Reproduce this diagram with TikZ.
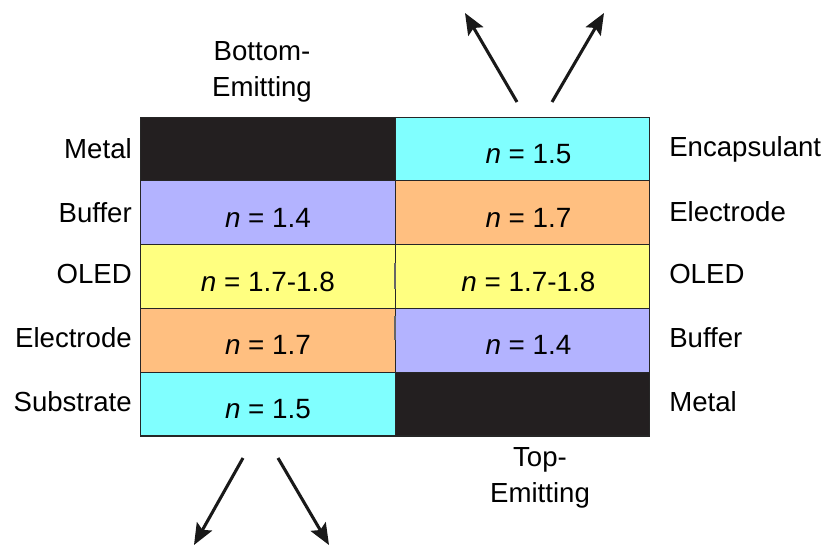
\documentclass[tikz,border=0pt]{standalone}
\usepackage{fontspec}
\setmainfont{Liberation Sans}
\usetikzlibrary{arrows.meta}
\definecolor{metalc}{HTML}{231F20}
\definecolor{bufferc}{HTML}{B3B3FF}
\definecolor{oledc}{HTML}{FFFF80}
\definecolor{electc}{HTML}{FFBF80}
\definecolor{substc}{HTML}{80FFFF}
\begin{document}
\begin{tikzpicture}[x=0.75pt,y=-0.75pt,
  cell/.style={minimum width=191pt,minimum height=47.85pt,inner sep=0pt,draw=black!85,line width=0.8pt,
    text height=22pt,text depth=0pt,font=\fontsize{20.9}{27}\selectfont},
  rcell/.style={cell},
  lbl/.style={inner sep=0pt,font=\fontsize{20.7}{27}\selectfont},
  ray/.style={line width=2.3pt,draw=black!90,-{Stealth[length=16pt,width=13pt,inset=3pt]}},
  divmark/.style={draw=black!60,line width=1pt}]
\useasboundingbox (0,0) rectangle (828,546);
% left column (bottom-emitting)
\node[cell,fill=metalc]  (lmetal) at (268,149) {};
\node[cell,fill=bufferc] (lbuf)   at (268,212.7) {\textit{n} = 1.4};
\node[cell,fill=oledc]   (loled)  at (268,276.5) {\textit{n} = 1.7-1.8};
\node[cell,fill=electc]  (lelec)  at (268,340.3) {\textit{n} = 1.7};
\node[cell,fill=substc]  (lsub)   at (268,404.1) {\textit{n} = 1.5};
% right column (top-emitting)
\node[rcell,fill=substc]  (renc)   at (522.5,149) {\hspace*{9pt}\textit{n} = 1.5};
\node[rcell,fill=electc]  (relec)  at (522.5,212.7) {\hspace*{9pt}\textit{n} = 1.7};
\node[rcell,fill=oledc]   (roled)  at (522.5,276.5) {\hspace*{9pt}\textit{n} = 1.7-1.8};
\node[rcell,fill=bufferc] (rbuf)   at (522.5,340.3) {\hspace*{9pt}\textit{n} = 1.4};
\node[rcell,fill=metalc]  (rmetal) at (522.5,404.1) {};
% small divider marks
\draw[divmark] (395,263) -- (395,289);
\draw[divmark] (395,316) -- (395,340);
% left labels
\node[lbl,anchor=east] (tl1) at (132,149) {Metal};
\node[lbl,anchor=east] (tl2) at (132,212.7) {Buffer};
\node[lbl,anchor=east] (tl3) at (132,274) {OLED};
\node[lbl,anchor=east] (tl4) at (132,338) {Electrode};
\node[lbl,anchor=east] (tl5) at (132,402) {Substrate};
% right labels
\node[lbl,anchor=west] (tr1) at (669,149) {Encapsulant};
\node[lbl,anchor=west] (tr2) at (669,212) {Electrode};
\node[lbl,anchor=west] (tr3) at (669,274) {OLED};
\node[lbl,anchor=west] (tr4) at (669,338) {Buffer};
\node[lbl,anchor=west] (tr5) at (669,402) {Metal};
% titles
\node[lbl,align=center] (bottomem) at (262,72) {Bottom-\\Emitting};
\node[lbl,align=center] (topem) at (540,478) {Top-\\Emitting};
% arrows
\coordinate (ta1s) at (517,102);
\coordinate (ta1e) at (465,13);
\coordinate (ta2s) at (552,102);
\coordinate (ta2e) at (604,13);
\coordinate (ba1s) at (243,458);
\coordinate (ba1e) at (194,545);
\coordinate (ba2s) at (278,458);
\coordinate (ba2e) at (329,545);
\draw[ray] (ta1s) -- (ta1e);
\draw[ray] (ta2s) -- (ta2e);
\draw[ray] (ba1s) -- (ba1e);
\draw[ray] (ba2s) -- (ba2e);
\end{tikzpicture}
\end{document}
